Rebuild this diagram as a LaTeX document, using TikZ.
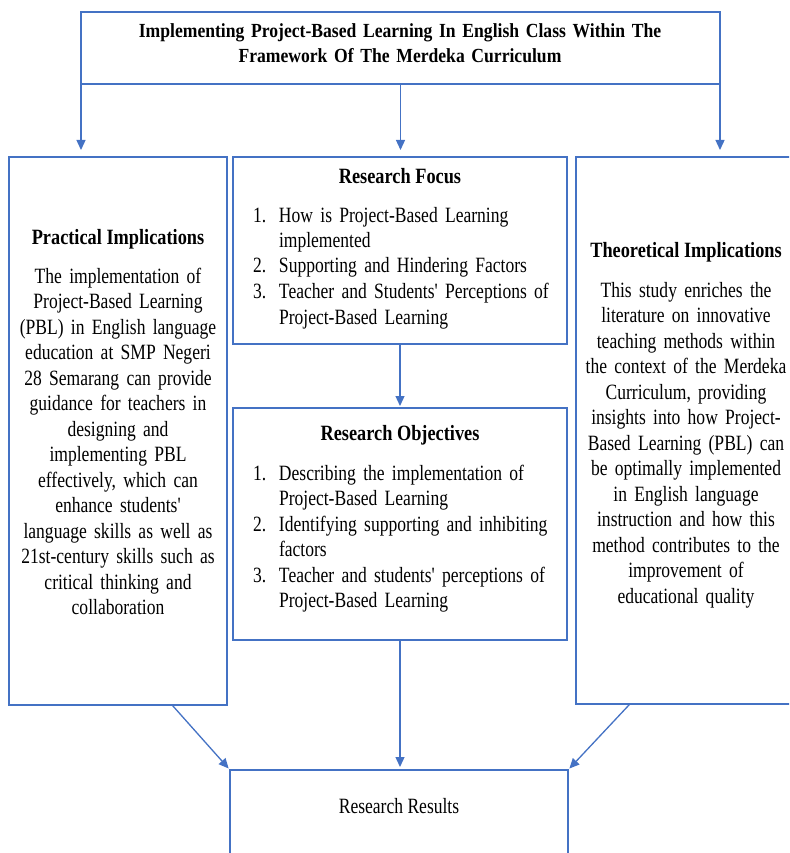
\documentclass[tikz,border=0pt]{standalone}
\usepackage{fontspec}
\setmainfont{Liberation Serif}
\newfontfamily\bodyfont{Liberation Serif}[FakeStretch=0.805]
\newfontfamily\headfont{Liberation Serif}[FakeStretch=0.84]
\newfontfamily\titlefont{Liberation Serif}[FakeStretch=0.88]
\usetikzlibrary{arrows.meta,calc}
\definecolor{lineblue}{HTML}{4472C4}
\newcommand{\bodyfmt}{\bodyfont\fontsize{21.8}{25.5}\selectfont}
\newcommand{\headfmt}{\headfont\bfseries\fontsize{21.8}{25.5}\selectfont}
\newcommand{\ttlfmt}{\titlefont\bfseries\fontsize{20}{25}\selectfont}
\tikzset{
 box/.style={draw=lineblue, line width=1.4pt, inner sep=0pt, outer sep=0pt, anchor=north west},
 conn/.style={draw=lineblue, line width=1.3pt, -{Triangle[length=10pt,width=9pt]}},
 txt/.style={inner sep=0pt, outer sep=0pt, font=\bodyfmt},
 head/.style={inner sep=0pt, outer sep=0pt, font=\headfmt},
 ttl/.style={inner sep=0pt, outer sep=0pt, font=\ttlfmt}
}
\newcommand{\itemnum}[1]{\makebox[26pt][l]{#1}}
\newcommand{\itemind}{\hspace*{26pt}}
\begin{document}
\begin{tikzpicture}[x=1pt,y=-1pt]
\useasboundingbox (0,0) rectangle (789,853);
\begin{scope}
\clip (0,0) rectangle (789,853);
% boxes
\node[box, minimum width=639pt, minimum height=72pt] (title) at (81,12) {};
\node[box, minimum width=218pt, minimum height=548pt] (prac) at (9,157) {};
\node[box, minimum width=334pt, minimum height=187pt] (focus) at (233,157) {};
\node[box, minimum width=220pt, minimum height=547pt] (theo) at (576,157) {};
\node[box, minimum width=334pt, minimum height=232pt] (obj) at (233,408) {};
\node[box, minimum width=338pt, minimum height=110pt] (res) at (230,770) {};
% texts
\node[ttl, anchor=base, text width=620pt, align=center] (titletext) at (400,38)
 {Implementing Project-Based Learning In English Class Within The\\Framework Of The Merdeka Curriculum};
\node[head, anchor=base] (practh) at (118,244) {Practical Implications};
\node[txt, anchor=base, text width=216pt, align=center] (practb) at (118,283)
 {The implementation of\\Project-Based Learning\\(PBL) in English language\\education at SMP Negeri\\28 Semarang can provide\\guidance for teachers in\\designing and\\implementing PBL\\effectively, which can\\enhance students'\\language skills as well as\\21st-century skills such as\\critical thinking and\\collaboration};
\node[head, anchor=base] (theoh) at (686,257) {Theoretical Implications};
\node[txt, anchor=base, text width=216pt, align=center] (theob) at (686,297)
 {This study enriches the\\literature on innovative\\teaching methods within\\the context of the Merdeka\\Curriculum, providing\\insights into how Project-\\Based Learning (PBL) can\\be optimally implemented\\in English language\\instruction and how this\\method contributes to the\\improvement of\\educational quality};
\node[head, anchor=base] (focush) at (400,183) {Research Focus};
\node[txt, anchor=base west, text width=310pt, align=left] (focusb) at (253,222)
 {\itemnum{1.}How is Project-Based Learning\\\itemind implemented\\\itemnum{2.}Supporting and Hindering Factors\\\itemnum{3.}Teacher and Students' Perceptions of\\\itemind Project-Based Learning};
\node[head, anchor=base] (objh) at (400,440) {Research Objectives};
\node[txt, anchor=base west, text width=310pt, align=left] (objb) at (253,480)
 {\itemnum{1.}Describing the implementation of\\\itemind Project-Based Learning\\\itemnum{2.}Identifying supporting and inhibiting\\\itemind factors\\\itemnum{3.}Teacher and students' perceptions of\\\itemind Project-Based Learning};
\node[txt, anchor=base] (rest) at (399,813) {Research Results};
% connectors
\draw[conn, shorten >=7pt] (title.south west) -- (title.south west |- prac.north);
\draw[conn, shorten >=7pt] (title.south) -- (title.south |- focus.north);
\draw[conn, shorten >=7pt] (title.south east) -- (title.south east |- theo.north);
\draw[conn, shorten >=2pt] (focus.south) -- (focus.south |- obj.north);
\draw[conn, shorten >=3pt] (obj.south) -- (obj.south |- res.north);
\draw[conn, shorten >=2pt] ($(prac.south west)!0.748!(prac.south east)$) -- (res.north west);
\draw[conn, shorten >=2pt] ($(theo.south west)!0.245!(theo.south east)$) -- (res.north east);
\end{scope}
\end{tikzpicture}
\end{document}
